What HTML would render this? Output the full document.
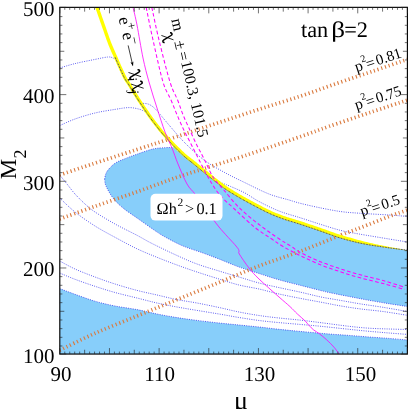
<!DOCTYPE html>
<html><head><meta charset="utf-8"><title>chart</title>
<style>
html,body{margin:0;padding:0;background:#fff;}
body{width:411px;height:409px;position:relative;overflow:hidden;font-family:"Liberation Serif",serif;}
</style></head><body>
<svg width="411" height="409" viewBox="0 0 411 409" style="position:absolute;left:0;top:0;will-change:transform">
<defs><clipPath id="c"><rect x="59.8" y="7.35" width="347.59999999999997" height="346.7"/></clipPath></defs>
<g clip-path="url(#c)">
<path d="M104.60,179.00 C105.00,177.75 105.27,174.12 107.00,171.50 C108.73,168.88 112.00,165.43 115.00,163.30 C118.00,161.17 121.33,160.22 125.00,158.70 C128.67,157.18 132.33,155.82 137.00,154.20 C141.67,152.58 148.33,150.08 153.00,149.00 C157.67,147.92 161.75,147.95 165.00,147.70 C168.25,147.45 171.25,147.53 172.50,147.50 L174.50,146.90 C176.00,148.37 181.25,153.60 183.50,155.70 C185.75,157.80 186.55,158.32 188.00,159.50 C189.45,160.68 189.47,160.57 192.20,162.80 C194.93,165.03 200.32,169.60 204.40,172.90 C208.48,176.20 213.02,179.78 216.70,182.60 C220.38,185.42 222.62,187.23 226.50,189.80 C230.38,192.37 235.30,195.30 240.00,198.00 C244.70,200.70 249.82,203.43 254.70,206.00 C259.58,208.57 264.42,211.20 269.30,213.40 C274.18,215.60 278.88,217.40 284.00,219.20 C289.12,221.00 293.83,222.18 300.00,224.20 C306.17,226.22 314.17,228.97 321.00,231.30 C327.83,233.63 334.33,236.20 341.00,238.20 C347.67,240.20 354.00,241.83 361.00,243.30 C368.00,244.77 375.27,245.85 383.00,247.00 C390.73,248.15 403.33,249.67 407.40,250.20 L407.40,306.50 C404.33,306.03 395.40,304.73 389.00,303.70 C382.60,302.67 375.67,301.50 369.00,300.30 C362.33,299.10 355.67,297.80 349.00,296.50 C342.33,295.20 333.67,293.48 329.00,292.50 C324.33,291.52 325.67,291.77 321.00,290.60 C316.33,289.43 308.00,287.30 301.00,285.50 C294.00,283.70 286.00,281.80 279.00,279.80 C272.00,277.80 265.67,275.63 259.00,273.50 C252.33,271.37 245.67,269.42 239.00,267.00 C232.33,264.58 225.00,261.33 219.00,259.00 C213.00,256.67 209.00,255.17 203.00,253.00 C197.00,250.83 189.00,248.50 183.00,246.00 C177.00,243.50 171.33,240.33 167.00,238.00 C162.67,235.67 162.00,235.33 157.00,232.00 C152.00,228.67 142.67,222.00 137.00,218.00 C131.33,214.00 127.00,211.33 123.00,208.00 C119.00,204.67 115.83,201.67 113.00,198.00 C110.17,194.33 107.40,189.17 106.00,186.00 C104.60,182.83 104.83,180.17 104.60,179.00 Z" fill="#87cefa"/>
<path d="M59.70,288.60 C62.25,289.55 69.12,292.20 75.00,294.30 C80.88,296.40 88.33,299.25 95.00,301.20 C101.67,303.15 108.00,304.60 115.00,306.00 C122.00,307.40 130.00,308.27 137.00,309.60 C144.00,310.93 150.33,312.67 157.00,314.00 C163.67,315.33 170.33,316.53 177.00,317.60 C183.67,318.67 190.00,319.50 197.00,320.40 C204.00,321.30 212.00,322.23 219.00,323.00 C226.00,323.77 232.33,324.33 239.00,325.00 C245.67,325.67 252.33,326.28 259.00,327.00 C265.67,327.72 272.00,328.55 279.00,329.30 C286.00,330.05 292.67,330.72 301.00,331.50 C309.33,332.28 321.00,333.35 329.00,334.00 C337.00,334.65 342.33,334.90 349.00,335.40 C355.67,335.90 362.33,336.50 369.00,337.00 C375.67,337.50 382.63,337.90 389.00,338.40 C395.37,338.90 404.17,339.73 407.20,340.00 L407.4,354.05 L59.8,354.05 Z" fill="#87cefa"/>
<path d="M104.60,179.00 C105.00,177.75 105.27,174.12 107.00,171.50 C108.73,168.88 112.00,165.43 115.00,163.30 C118.00,161.17 121.33,160.22 125.00,158.70 C128.67,157.18 132.33,155.82 137.00,154.20 C141.67,152.58 148.33,150.08 153.00,149.00 C157.67,147.92 161.75,147.95 165.00,147.70 C168.25,147.45 171.25,147.53 172.50,147.50" fill="none" stroke="#3636ee" stroke-width="0.8" stroke-dasharray="1 1.3" opacity="1"/>
<path d="M407.40,306.50 C404.33,306.03 395.40,304.73 389.00,303.70 C382.60,302.67 375.67,301.50 369.00,300.30 C362.33,299.10 355.67,297.80 349.00,296.50 C342.33,295.20 333.67,293.48 329.00,292.50 C324.33,291.52 325.67,291.77 321.00,290.60 C316.33,289.43 308.00,287.30 301.00,285.50 C294.00,283.70 286.00,281.80 279.00,279.80 C272.00,277.80 265.67,275.63 259.00,273.50 C252.33,271.37 245.67,269.42 239.00,267.00 C232.33,264.58 225.00,261.33 219.00,259.00 C213.00,256.67 209.00,255.17 203.00,253.00 C197.00,250.83 189.00,248.50 183.00,246.00 C177.00,243.50 171.33,240.33 167.00,238.00 C162.67,235.67 162.00,235.33 157.00,232.00 C152.00,228.67 142.67,222.00 137.00,218.00 C131.33,214.00 127.00,211.33 123.00,208.00 C119.00,204.67 115.83,201.67 113.00,198.00 C110.17,194.33 107.40,189.17 106.00,186.00 C104.60,182.83 104.83,180.17 104.60,179.00" fill="none" stroke="#3636ee" stroke-width="0.8" stroke-dasharray="1 1.3" opacity="1"/>
<path d="M59.70,288.60 C62.25,289.55 69.12,292.20 75.00,294.30 C80.88,296.40 88.33,299.25 95.00,301.20 C101.67,303.15 108.00,304.60 115.00,306.00 C122.00,307.40 130.00,308.27 137.00,309.60 C144.00,310.93 150.33,312.67 157.00,314.00 C163.67,315.33 170.33,316.53 177.00,317.60 C183.67,318.67 190.00,319.50 197.00,320.40 C204.00,321.30 212.00,322.23 219.00,323.00 C226.00,323.77 232.33,324.33 239.00,325.00 C245.67,325.67 252.33,326.28 259.00,327.00 C265.67,327.72 272.00,328.55 279.00,329.30 C286.00,330.05 292.67,330.72 301.00,331.50 C309.33,332.28 321.00,333.35 329.00,334.00 C337.00,334.65 342.33,334.90 349.00,335.40 C355.67,335.90 362.33,336.50 369.00,337.00 C375.67,337.50 382.63,337.90 389.00,338.40 C395.37,338.90 404.17,339.73 407.20,340.00" fill="none" stroke="#3636ee" stroke-width="0.8" stroke-dasharray="1 1.3" opacity="1"/>
<path d="M59.70,68.00 C62.25,67.27 69.12,65.03 75.00,63.60 C80.88,62.17 89.50,60.50 95.00,59.40 C100.50,58.30 105.00,57.23 108.00,57.00 C111.00,56.77 111.58,57.50 113.00,58.00 C114.42,58.50 115.92,59.67 116.50,60.00" fill="none" stroke="#3636ee" stroke-width="0.8" stroke-dasharray="1 1.3" opacity="1"/>
<path d="M59.70,125.60 C62.25,124.50 69.12,121.10 75.00,119.00 C80.88,116.90 88.33,114.60 95.00,113.00 C101.67,111.40 109.33,110.30 115.00,109.40 C120.67,108.50 124.95,107.63 129.00,107.60 C133.05,107.57 136.72,108.53 139.30,109.20 C141.88,109.87 143.63,111.20 144.50,111.60" fill="none" stroke="#3636ee" stroke-width="0.8" stroke-dasharray="1 1.3" opacity="1"/>
<path d="M140.80,103.30 C142.00,103.42 145.80,103.27 148.00,104.00 C150.20,104.73 152.00,105.98 154.00,107.70 C156.00,109.42 157.50,111.42 160.00,114.30 C162.50,117.18 164.90,120.28 169.00,125.00 C173.10,129.72 178.77,136.77 184.60,142.60 C190.43,148.43 197.48,155.10 204.00,160.00 C210.52,164.90 216.87,168.22 223.70,172.00 C230.53,175.78 237.45,179.03 245.00,182.70 C252.55,186.37 261.67,191.12 269.00,194.00 C276.33,196.88 283.67,198.42 289.00,200.00 C294.33,201.58 295.67,202.17 301.00,203.50 C306.33,204.83 314.33,206.65 321.00,208.00 C327.67,209.35 334.67,210.73 341.00,211.60 C347.33,212.47 351.00,212.63 359.00,213.20 C367.00,213.77 380.97,214.47 389.00,215.00 C397.03,215.53 404.17,216.17 407.20,216.40" fill="none" stroke="#3636ee" stroke-width="0.8" stroke-dasharray="1 1.3" opacity="1"/>
<path d="M215.50,180.30 C216.72,180.82 220.38,182.42 222.80,183.40 C225.22,184.38 226.30,184.60 230.00,186.20 C233.70,187.80 240.17,190.45 245.00,193.00 C249.83,195.55 253.33,198.50 259.00,201.50 C264.67,204.50 272.00,208.25 279.00,211.00 C286.00,213.75 294.00,215.75 301.00,218.00 C308.00,220.25 314.33,222.42 321.00,224.50 C327.67,226.58 334.67,228.92 341.00,230.50 C347.33,232.08 351.00,232.58 359.00,234.00 C367.00,235.42 380.97,237.67 389.00,239.00 C397.03,240.33 404.17,241.50 407.20,242.00" fill="none" stroke="#3636ee" stroke-width="0.8" stroke-dasharray="1 1.3" opacity="1"/>
<path d="M59.70,175.00 C60.92,176.50 64.45,180.83 67.00,184.00 C69.55,187.17 72.00,190.67 75.00,194.00 C78.00,197.33 81.67,201.00 85.00,204.00 C88.33,207.00 90.00,208.67 95.00,212.00 C100.00,215.33 108.00,220.12 115.00,224.00 C122.00,227.88 130.83,232.05 137.00,235.30 C143.17,238.55 145.33,240.13 152.00,243.50 C158.67,246.87 169.50,252.08 177.00,255.50 C184.50,258.92 190.00,261.42 197.00,264.00 C204.00,266.58 212.00,268.83 219.00,271.00 C226.00,273.17 232.33,275.00 239.00,277.00 C245.67,279.00 252.33,281.23 259.00,283.00 C265.67,284.77 272.00,286.05 279.00,287.60 C286.00,289.15 294.00,290.73 301.00,292.30 C308.00,293.87 314.33,295.63 321.00,297.00 C327.67,298.37 334.33,299.33 341.00,300.50 C347.67,301.67 354.00,302.87 361.00,304.00 C368.00,305.13 375.27,306.05 383.00,307.30 C390.73,308.55 403.33,310.80 407.40,311.50" fill="none" stroke="#3636ee" stroke-width="0.8" stroke-dasharray="1 1.3" opacity="1"/>
<path d="M59.70,198.00 C62.25,200.33 69.12,207.33 75.00,212.00 C80.88,216.67 88.33,221.78 95.00,226.00 C101.67,230.22 108.00,233.50 115.00,237.30 C122.00,241.10 130.00,245.47 137.00,248.80 C144.00,252.13 150.33,254.60 157.00,257.30 C163.67,260.00 170.33,262.55 177.00,265.00 C183.67,267.45 190.00,269.67 197.00,272.00 C204.00,274.33 212.00,276.83 219.00,279.00 C226.00,281.17 232.33,283.33 239.00,285.00 C245.67,286.67 252.33,287.50 259.00,289.00 C265.67,290.50 272.00,292.42 279.00,294.00 C286.00,295.58 294.00,297.13 301.00,298.50 C308.00,299.87 314.33,300.95 321.00,302.20 C327.67,303.45 334.33,304.87 341.00,306.00 C347.67,307.13 354.00,308.08 361.00,309.00 C368.00,309.92 375.27,310.45 383.00,311.50 C390.73,312.55 403.33,314.67 407.40,315.30" fill="none" stroke="#3636ee" stroke-width="0.8" stroke-dasharray="1 1.3" opacity="1"/>
<path d="M59.70,261.00 C62.25,262.33 69.12,266.33 75.00,269.00 C80.88,271.67 88.33,274.50 95.00,277.00 C101.67,279.50 108.00,281.77 115.00,284.00 C122.00,286.23 130.00,288.57 137.00,290.40 C144.00,292.23 150.33,293.47 157.00,295.00 C163.67,296.53 170.33,298.27 177.00,299.60 C183.67,300.93 190.00,301.68 197.00,303.00 C204.00,304.32 212.00,306.00 219.00,307.50 C226.00,309.00 232.33,310.67 239.00,312.00 C245.67,313.33 252.33,314.50 259.00,315.50 C265.67,316.50 272.00,317.22 279.00,318.00 C286.00,318.78 294.00,319.42 301.00,320.20 C308.00,320.98 313.00,321.68 321.00,322.70 C329.00,323.72 341.00,325.38 349.00,326.30 C357.00,327.22 362.33,327.75 369.00,328.20 C375.67,328.65 382.60,328.78 389.00,329.00 C395.40,329.22 404.33,329.42 407.40,329.50" fill="none" stroke="#3636ee" stroke-width="0.8" stroke-dasharray="1 1.3" opacity="1"/>
<path d="M59.70,273.00 C62.25,274.05 69.12,277.08 75.00,279.30 C80.88,281.52 88.33,284.10 95.00,286.30 C101.67,288.50 108.00,290.55 115.00,292.50 C122.00,294.45 130.00,296.25 137.00,298.00 C144.00,299.75 150.33,301.50 157.00,303.00 C163.67,304.50 170.33,305.77 177.00,307.00 C183.67,308.23 190.00,309.23 197.00,310.40 C204.00,311.57 212.00,312.82 219.00,314.00 C226.00,315.18 232.33,316.42 239.00,317.50 C245.67,318.58 252.33,319.65 259.00,320.50 C265.67,321.35 272.00,321.93 279.00,322.60 C286.00,323.27 294.00,323.88 301.00,324.50 C308.00,325.12 313.00,325.50 321.00,326.30 C329.00,327.10 341.00,328.47 349.00,329.30 C357.00,330.13 362.33,330.68 369.00,331.30 C375.67,331.92 382.60,332.48 389.00,333.00 C395.40,333.52 404.33,334.17 407.40,334.40" fill="none" stroke="#3636ee" stroke-width="0.8" stroke-dasharray="1 1.3" opacity="1"/>
<path d="M59.70,175.00 C64.75,173.30 77.12,169.05 90.00,164.80 C102.88,160.55 122.50,154.22 137.00,149.50 C151.50,144.78 163.33,141.00 177.00,136.50 C190.67,132.00 205.17,127.08 219.00,122.50 C232.83,117.92 246.33,113.42 260.00,109.00 C273.67,104.58 288.00,100.33 301.00,96.00 C314.00,91.67 326.17,87.08 338.00,83.00 C349.83,78.92 360.47,75.42 372.00,71.50 C383.53,67.58 401.33,61.50 407.20,59.50" fill="none" stroke="#da7a3e" stroke-width="3.7" stroke-dasharray="1.1 2.75"/>
<path d="M59.70,219.00 C65.58,216.88 82.12,210.83 95.00,206.30 C107.88,201.77 123.33,196.63 137.00,191.80 C150.67,186.97 165.83,181.17 177.00,177.30 C188.17,173.43 192.67,172.22 204.00,168.60 C215.33,164.98 228.83,160.97 245.00,155.60 C261.17,150.23 287.00,141.27 301.00,136.40 C315.00,131.53 317.50,130.38 329.00,126.40 C340.50,122.42 356.97,116.87 370.00,112.50 C383.03,108.13 401.00,102.25 407.20,100.20" fill="none" stroke="#da7a3e" stroke-width="3.7" stroke-dasharray="1.1 2.75"/>
<path d="M59.70,350.30 C65.58,347.47 82.12,339.02 95.00,333.30 C107.88,327.58 123.33,321.62 137.00,316.00 C150.67,310.38 163.33,305.18 177.00,299.60 C190.67,294.02 205.33,288.10 219.00,282.50 C232.67,276.90 245.33,271.25 259.00,266.00 C272.67,260.75 287.33,256.17 301.00,251.00 C314.67,245.83 331.00,238.92 341.00,235.00 C351.00,231.08 353.00,230.58 361.00,227.50 C369.00,224.42 381.27,219.42 389.00,216.50 C396.73,213.58 404.33,211.08 407.40,210.00" fill="none" stroke="#da7a3e" stroke-width="3.7" stroke-dasharray="1.1 2.75"/>
<path d="M95.27,7.70 L95.59,8.61 L95.99,9.75 L96.47,11.10 L97.00,12.61 L97.58,14.25 L98.19,15.99 L98.83,17.78 L99.47,19.60 L100.11,21.41 L100.73,23.16 L101.32,24.84 L101.87,26.40 L102.39,27.88 L102.90,29.36 L103.41,30.83 L103.91,32.29 L104.41,33.75 L104.90,35.19 L105.40,36.61 L105.89,38.02 L106.38,39.41 L106.88,40.77 L107.38,42.12 L107.88,43.43 L108.37,44.69 L108.85,45.89 L109.32,47.03 L109.78,48.13 L110.25,49.22 L110.71,50.29 L111.19,51.38 L111.68,52.49 L112.19,53.64 L112.73,54.84 L113.30,56.12 L113.90,57.48 L114.56,58.98 L115.27,60.61 L116.03,62.34 L116.83,64.15 L117.64,66.00 L118.47,67.86 L119.29,69.70 L120.09,71.49 L120.87,73.20 L121.61,74.80 L122.30,76.25 L122.93,77.54 L123.48,78.63 L123.98,79.55 L124.43,80.33 L124.83,81.01 L125.22,81.60 L125.58,82.13 L125.93,82.62 L126.29,83.11 L126.65,83.62 L127.05,84.19 L127.48,84.85 L127.98,85.64 L128.53,86.52 L129.09,87.44 L129.67,88.40 L130.27,89.40 L130.89,90.43 L131.54,91.50 L132.21,92.60 L132.90,93.74 L133.63,94.91 L134.38,96.12 L135.17,97.37 L135.99,98.65 L136.85,99.99 L137.77,101.40 L138.73,102.87 L139.73,104.40 L140.75,105.96 L141.79,107.54 L142.85,109.13 L143.91,110.71 L144.96,112.27 L146.00,113.79 L147.03,115.27 L148.02,116.69 L149.00,118.08 L150.01,119.45 L151.03,120.81 L152.05,122.16 L153.06,123.49 L154.06,124.79 L155.04,126.05 L156.01,127.28 L156.94,128.45 L157.83,129.58 L158.69,130.64 L159.50,131.64 L160.26,132.56 L160.97,133.41 L161.64,134.18 L162.27,134.90 L162.88,135.57 L163.46,136.20 L164.02,136.80 L164.57,137.39 L165.13,137.98 L165.68,138.56 L166.24,139.17 L166.83,139.80 L167.42,140.45 L167.99,141.09 L168.56,141.71 L169.13,142.34 L169.69,142.96 L170.26,143.58 L170.83,144.20 L171.42,144.83 L172.02,145.46 L172.63,146.11 L173.27,146.77 L173.94,147.45 L174.64,148.15 L175.40,148.90 L176.19,149.67 L177.00,150.46 L177.83,151.25 L178.66,152.05 L179.49,152.83 L180.29,153.58 L181.06,154.31 L181.79,154.98 L182.46,155.60 L183.07,156.16 L183.61,156.65 L184.10,157.09 L184.55,157.47 L184.96,157.81 L185.33,158.12 L185.68,158.40 L186.01,158.66 L186.33,158.91 L186.65,159.15 L186.97,159.40 L187.30,159.65 L187.65,159.93 L187.99,160.20 L188.29,160.43 L188.56,160.63 L188.80,160.81 L189.05,160.99 L189.30,161.18 L189.58,161.38 L189.90,161.62 L190.28,161.91 L190.73,162.25 L191.26,162.67 L191.89,163.17 L192.64,163.77 L193.48,164.45 L194.40,165.19 L195.40,166.00 L196.45,166.86 L197.55,167.75 L198.67,168.66 L199.81,169.58 L200.93,170.51 L202.05,171.43 L203.13,172.32 L204.18,173.17 L205.21,174.00 L206.25,174.84 L207.31,175.69 L208.37,176.53 L209.43,177.37 L210.48,178.21 L211.53,179.03 L212.57,179.84 L213.58,180.64 L214.58,181.41 L215.55,182.16 L216.49,182.88 L217.38,183.56 L218.22,184.21 L219.03,184.83 L219.80,185.43 L220.56,186.01 L221.32,186.57 L222.07,187.14 L222.85,187.70 L223.65,188.27 L224.48,188.86 L225.37,189.46 L226.31,190.09 L227.30,190.74 L228.33,191.41 L229.40,192.08 L230.50,192.76 L231.62,193.45 L232.76,194.15 L233.92,194.85 L235.10,195.55 L236.28,196.24 L237.46,196.94 L238.65,197.62 L239.83,198.30 L241.01,198.98 L242.21,199.66 L243.42,200.33 L244.65,201.01 L245.88,201.69 L247.11,202.36 L248.36,203.03 L249.60,203.69 L250.84,204.36 L252.08,205.01 L253.31,205.66 L254.54,206.31 L255.76,206.95 L256.97,207.60 L258.19,208.24 L259.41,208.88 L260.62,209.52 L261.84,210.15 L263.06,210.77 L264.27,211.39 L265.49,211.99 L266.71,212.58 L267.93,213.16 L269.16,213.72 L270.38,214.26 L271.59,214.79 L272.80,215.30 L274.01,215.81 L275.22,216.30 L276.43,216.78 L277.65,217.25 L278.88,217.71 L280.11,218.17 L281.35,218.63 L282.61,219.08 L283.88,219.53 L285.16,219.97 L286.43,220.39 L287.69,220.79 L288.95,221.18 L290.22,221.57 L291.51,221.95 L292.81,222.34 L294.15,222.74 L295.52,223.16 L296.93,223.59 L298.38,224.05 L299.89,224.53 L301.47,225.05 L303.11,225.60 L304.81,226.16 L306.55,226.75 L308.33,227.35 L310.14,227.96 L311.95,228.58 L313.78,229.20 L315.59,229.82 L317.39,230.44 L319.16,231.04 L320.89,231.63 L322.59,232.22 L324.27,232.81 L325.95,233.41 L327.62,234.01 L329.29,234.61 L330.94,235.20 L332.60,235.79 L334.26,236.37 L335.91,236.94 L337.57,237.49 L339.23,238.02 L340.90,238.54 L342.56,239.03 L344.21,239.51 L345.86,239.97 L347.50,240.42 L349.14,240.86 L350.79,241.29 L352.44,241.71 L354.10,242.11 L355.78,242.51 L357.47,242.89 L359.19,243.27 L360.93,243.64 L362.69,244.00 L364.46,244.35 L366.24,244.68 L368.04,245.00 L369.85,245.31 L371.67,245.61 L373.51,245.91 L375.36,246.20 L377.23,246.49 L379.12,246.77 L381.02,247.06 L382.95,247.35 L384.98,247.64 L387.16,247.95 L389.46,248.26 L391.81,248.57 L394.19,248.88 L396.53,249.18 L398.80,249.47 L400.94,249.74 L402.92,249.98 L404.67,250.20 L406.17,250.39 L407.36,250.55 L407.40,250.20 L406.22,250.03 L404.73,249.76 L402.98,249.44 L401.02,249.08 L398.90,248.69 L396.65,248.28 L394.32,247.85 L391.97,247.41 L389.63,246.97 L387.36,246.53 L385.20,246.10 L383.19,245.70 L381.29,245.31 L379.40,244.92 L377.53,244.53 L375.68,244.14 L373.85,243.74 L372.04,243.35 L370.24,242.95 L368.47,242.54 L366.71,242.12 L364.96,241.70 L363.24,241.26 L361.52,240.81 L359.82,240.35 L358.15,239.88 L356.50,239.41 L354.87,238.92 L353.25,238.43 L351.63,238.00 L350.01,237.57 L348.39,237.14 L346.77,236.70 L345.15,236.24 L343.52,235.77 L341.88,235.28 L340.25,234.78 L338.63,234.26 L337.00,233.72 L335.37,233.16 L333.73,232.59 L332.09,232.00 L330.44,231.41 L328.77,230.81 L327.10,230.21 L325.41,229.61 L323.71,229.01 L321.99,228.42 L320.26,227.82 L318.49,227.22 L316.69,226.60 L314.87,225.98 L313.05,225.36 L311.23,224.74 L309.42,224.13 L307.64,223.53 L305.89,222.94 L304.19,222.37 L302.53,221.82 L300.94,221.30 L299.41,220.81 L297.93,220.34 L296.51,219.90 L295.13,219.49 L293.79,219.09 L292.48,218.70 L291.20,218.31 L289.95,217.93 L288.71,217.55 L287.48,217.15 L286.25,216.75 L285.01,216.32 L283.75,215.88 L282.51,215.43 L281.29,214.98 L280.07,214.53 L278.87,214.07 L277.68,213.61 L276.49,213.14 L275.30,212.66 L274.12,212.17 L272.93,211.67 L271.75,211.15 L270.56,210.62 L269.37,210.08 L268.18,209.51 L266.99,208.94 L265.79,208.35 L264.60,207.74 L263.40,207.13 L262.20,206.50 L260.99,205.87 L259.78,205.23 L258.56,204.59 L257.34,203.95 L256.12,203.30 L254.90,202.66 L253.67,202.01 L252.44,201.35 L251.20,200.70 L249.97,200.03 L248.73,199.37 L247.51,198.70 L246.29,198.03 L245.07,197.36 L243.87,196.69 L242.69,196.02 L241.52,195.35 L240.35,194.68 L239.17,194.00 L238.00,193.31 L236.83,192.62 L235.67,191.93 L234.52,191.24 L233.39,190.55 L232.29,189.87 L231.21,189.20 L230.16,188.54 L229.15,187.89 L228.18,187.26 L227.27,186.65 L226.42,186.06 L225.61,185.50 L224.84,184.95 L224.09,184.40 L223.35,183.85 L222.62,183.30 L221.87,182.73 L221.10,182.13 L220.30,181.52 L219.45,180.87 L218.56,180.18 L217.62,179.46 L216.66,178.72 L215.67,177.95 L214.66,177.16 L213.63,176.36 L212.59,175.54 L211.54,174.71 L210.48,173.87 L209.43,173.03 L208.38,172.19 L207.34,171.35 L206.32,170.53 L205.28,169.69 L204.20,168.80 L203.10,167.89 L201.98,166.96 L200.84,166.05 L199.72,165.14 L198.63,164.25 L197.58,163.39 L196.58,162.58 L195.65,161.83 L194.80,161.14 L194.05,160.54 L193.40,160.03 L192.85,159.60 L192.38,159.24 L191.99,158.94 L191.65,158.68 L191.35,158.46 L191.09,158.27 L190.86,158.10 L190.63,157.93 L190.39,157.75 L190.12,157.54 L189.79,157.29 L189.43,157.00 L189.08,156.73 L188.75,156.48 L188.44,156.24 L188.14,156.01 L187.83,155.76 L187.51,155.51 L187.16,155.23 L186.79,154.91 L186.37,154.55 L185.91,154.14 L185.39,153.67 L184.79,153.13 L184.13,152.52 L183.41,151.85 L182.65,151.13 L181.85,150.39 L181.04,149.61 L180.21,148.83 L179.39,148.04 L178.59,147.26 L177.81,146.50 L177.07,145.77 L176.38,145.08 L175.73,144.42 L175.11,143.78 L174.51,143.15 L173.93,142.53 L173.35,141.92 L172.79,141.31 L172.23,140.69 L171.67,140.08 L171.11,139.46 L170.54,138.83 L169.96,138.19 L169.36,137.53 L168.76,136.89 L168.19,136.27 L167.63,135.67 L167.08,135.09 L166.53,134.51 L165.98,133.92 L165.42,133.31 L164.84,132.66 L164.23,131.97 L163.58,131.23 L162.89,130.41 L162.15,129.52 L161.36,128.53 L160.51,127.48 L159.62,126.37 L158.70,125.20 L157.75,123.99 L156.77,122.73 L155.78,121.45 L154.78,120.13 L153.77,118.80 L152.77,117.45 L151.77,116.10 L150.80,114.73 L149.82,113.33 L148.81,111.87 L147.78,110.36 L146.73,108.81 L145.68,107.24 L144.63,105.66 L143.59,104.09 L142.57,102.54 L141.58,101.02 L140.62,99.55 L139.71,98.14 L138.85,96.81 L138.04,95.54 L137.26,94.32 L136.52,93.12 L135.80,91.96 L135.11,90.83 L134.44,89.73 L133.80,88.67 L133.18,87.64 L132.58,86.64 L131.99,85.68 L131.43,84.74 L130.87,83.84 L130.34,83.00 L129.86,82.28 L129.43,81.66 L129.05,81.12 L128.69,80.64 L128.37,80.18 L128.05,79.71 L127.72,79.20 L127.36,78.61 L126.96,77.91 L126.50,77.05 L125.97,76.02 L125.36,74.78 L124.69,73.36 L123.96,71.79 L123.19,70.09 L122.39,68.31 L121.57,66.48 L120.75,64.63 L119.94,62.78 L119.15,60.98 L118.39,59.24 L117.67,57.61 L117.01,56.11 L116.41,54.74 L115.84,53.46 L115.30,52.25 L114.79,51.11 L114.30,50.01 L113.83,48.93 L113.37,47.87 L112.92,46.81 L112.46,45.73 L112.00,44.61 L111.54,43.44 L111.05,42.21 L110.56,40.92 L110.07,39.60 L109.58,38.26 L109.10,36.89 L108.61,35.49 L108.12,34.08 L107.62,32.64 L107.13,31.19 L106.62,29.72 L106.11,28.25 L105.60,26.76 L105.08,25.27 L104.52,23.71 L103.93,22.03 L103.31,20.27 L102.67,18.47 L102.03,16.65 L101.40,14.86 L100.79,13.12 L100.21,11.48 L99.67,9.97 L99.20,8.62 L98.80,7.48 L98.47,6.57 Z" fill="#ffff00"/>
<path d="M115.00,57.00 C116.50,60.33 121.67,72.33 124.00,77.00 C126.33,81.67 126.83,81.50 129.00,85.00 C131.17,88.50 133.67,92.83 137.00,98.00 C140.33,103.17 145.12,110.50 149.00,116.00 C152.88,121.50 157.22,127.13 160.30,131.00 C163.38,134.87 165.13,136.55 167.50,139.20 C169.87,141.85 171.83,144.15 174.50,146.90 C177.17,149.65 181.25,153.60 183.50,155.70 C185.75,157.80 186.55,158.32 188.00,159.50 C189.45,160.68 189.47,160.57 192.20,162.80 C194.93,165.03 200.32,169.60 204.40,172.90 C208.48,176.20 213.02,179.78 216.70,182.60 C220.38,185.42 222.62,187.23 226.50,189.80 C230.38,192.37 235.30,195.30 240.00,198.00 C244.70,200.70 249.82,203.43 254.70,206.00 C259.58,208.57 264.42,211.20 269.30,213.40 C274.18,215.60 278.88,217.40 284.00,219.20 C289.12,221.00 293.83,222.18 300.00,224.20 C306.17,226.22 314.17,228.97 321.00,231.30 C327.83,233.63 334.33,236.20 341.00,238.20 C347.67,240.20 354.00,241.83 361.00,243.30 C368.00,244.77 375.27,245.85 383.00,247.00 C390.73,248.15 403.33,249.67 407.40,250.20" fill="none" stroke="#202088" stroke-width="1" stroke-dasharray="0.8 0.8"/>
<path d="M133.00,7.30 C133.67,10.25 135.33,16.55 137.00,25.00 C138.67,33.45 141.00,48.50 143.00,58.00 C145.00,67.50 146.67,73.67 149.00,82.00 C151.33,90.33 154.33,99.67 157.00,108.00 C159.67,116.33 162.50,125.33 165.00,132.00 C167.50,138.67 169.83,142.67 172.00,148.00 C174.17,153.33 175.50,158.00 178.00,164.00 C180.50,170.00 184.17,179.00 187.00,184.00 C189.83,189.00 192.00,190.00 195.00,194.00 C198.00,198.00 201.00,202.50 205.00,208.00 C209.00,213.50 213.83,220.67 219.00,227.00 C224.17,233.33 232.67,242.00 236.00,246.00 C239.33,250.00 238.45,249.67 239.00,251.00 C239.55,252.33 237.63,251.17 239.30,254.00 C240.97,256.83 245.72,263.83 249.00,268.00 C252.28,272.17 254.00,274.17 259.00,279.00 C264.00,283.83 273.83,292.40 279.00,297.00 C284.17,301.60 286.95,303.78 290.00,306.60 C293.05,309.42 294.85,311.58 297.30,313.90 C299.75,316.22 302.73,318.57 304.70,320.50 C306.67,322.43 307.63,323.95 309.10,325.50 C310.57,327.05 311.80,328.43 313.50,329.80 C315.20,331.17 317.10,332.03 319.30,333.70 C321.50,335.37 324.25,337.55 326.70,339.80 C329.15,342.05 331.93,344.83 334.00,347.20 C336.07,349.57 338.25,352.87 339.10,354.00" fill="none" stroke="#ff00ff" stroke-width="0.8"/>
<path d="M146.20,7.35 C147.33,12.79 150.20,27.56 153.00,40.00 C155.80,52.44 160.00,72.00 163.00,82.00 C166.00,92.00 168.67,94.55 171.00,100.00 C173.33,105.45 174.92,109.82 177.00,114.70 C179.08,119.58 181.17,124.42 183.50,129.30 C185.83,134.18 188.50,139.10 191.00,144.00 C193.50,148.90 195.67,153.20 198.50,158.70 C201.33,164.20 204.58,171.12 208.00,177.00 C211.42,182.88 214.50,188.58 219.00,194.00 C223.50,199.42 229.00,203.92 235.00,209.50 C241.00,215.08 249.00,222.67 255.00,227.50 C261.00,232.33 266.33,235.33 271.00,238.50 C275.67,241.67 278.00,243.58 283.00,246.50 C288.00,249.42 294.67,252.92 301.00,256.00 C307.33,259.08 314.33,262.33 321.00,265.00 C327.67,267.67 334.33,269.83 341.00,272.00 C347.67,274.17 354.00,276.08 361.00,278.00 C368.00,279.92 375.75,281.62 383.00,283.50 C390.25,285.38 400.92,288.33 404.50,289.30" fill="none" stroke="#ff00ff" stroke-width="1.05" stroke-dasharray="3.6 2.4"/>
<path d="M151.80,7.35 C153.00,12.79 155.97,27.56 159.00,40.00 C162.03,52.44 166.90,72.00 170.00,82.00 C173.10,92.00 175.43,94.55 177.60,100.00 C179.77,105.45 181.02,109.82 183.00,114.70 C184.98,119.58 187.17,124.17 189.50,129.30 C191.83,134.43 194.58,140.60 197.00,145.50 C199.42,150.40 201.33,153.45 204.00,158.70 C206.67,163.95 209.83,171.95 213.00,177.00 C216.17,182.05 218.67,183.92 223.00,189.00 C227.33,194.08 233.00,201.58 239.00,207.50 C245.00,213.42 252.33,219.28 259.00,224.50 C265.67,229.72 273.67,235.17 279.00,238.80 C284.33,242.43 287.33,243.97 291.00,246.30 C294.67,248.63 296.00,250.18 301.00,252.80 C306.00,255.42 314.33,259.30 321.00,262.00 C327.67,264.70 334.33,266.83 341.00,269.00 C347.67,271.17 354.00,273.08 361.00,275.00 C368.00,276.92 375.75,278.47 383.00,280.50 C390.25,282.53 400.92,286.08 404.50,287.20" fill="none" stroke="#ff00ff" stroke-width="1.05" stroke-dasharray="3.6 2.4"/>
</g>
<rect x="150.5" y="193.8" width="72" height="26.8" rx="5" ry="5" fill="#fff"/>
<rect x="59.8" y="7.35" width="347.59999999999997" height="346.7" fill="none" stroke="#000" stroke-width="1.15"/>
<path d="M59.80,354.05 v-6 M59.80,7.35 v6 M64.77,354.05 v-2.5 M64.77,7.35 v2.5 M69.73,354.05 v-2.5 M69.73,7.35 v2.5 M74.70,354.05 v-2.5 M74.70,7.35 v2.5 M79.66,354.05 v-2.5 M79.66,7.35 v2.5 M84.63,354.05 v-4.3 M84.63,7.35 v4.3 M89.59,354.05 v-2.5 M89.59,7.35 v2.5 M94.56,354.05 v-2.5 M94.56,7.35 v2.5 M99.53,354.05 v-2.5 M99.53,7.35 v2.5 M104.49,354.05 v-2.5 M104.49,7.35 v2.5 M109.46,354.05 v-6 M109.46,7.35 v6 M114.42,354.05 v-2.5 M114.42,7.35 v2.5 M119.39,354.05 v-2.5 M119.39,7.35 v2.5 M124.35,354.05 v-2.5 M124.35,7.35 v2.5 M129.32,354.05 v-2.5 M129.32,7.35 v2.5 M134.29,354.05 v-4.3 M134.29,7.35 v4.3 M139.25,354.05 v-2.5 M139.25,7.35 v2.5 M144.22,354.05 v-2.5 M144.22,7.35 v2.5 M149.18,354.05 v-2.5 M149.18,7.35 v2.5 M154.15,354.05 v-2.5 M154.15,7.35 v2.5 M159.11,354.05 v-6 M159.11,7.35 v6 M164.08,354.05 v-2.5 M164.08,7.35 v2.5 M169.05,354.05 v-2.5 M169.05,7.35 v2.5 M174.01,354.05 v-2.5 M174.01,7.35 v2.5 M178.98,354.05 v-2.5 M178.98,7.35 v2.5 M183.94,354.05 v-4.3 M183.94,7.35 v4.3 M188.91,354.05 v-2.5 M188.91,7.35 v2.5 M193.87,354.05 v-2.5 M193.87,7.35 v2.5 M198.84,354.05 v-2.5 M198.84,7.35 v2.5 M203.81,354.05 v-2.5 M203.81,7.35 v2.5 M208.77,354.05 v-6 M208.77,7.35 v6 M213.74,354.05 v-2.5 M213.74,7.35 v2.5 M218.70,354.05 v-2.5 M218.70,7.35 v2.5 M223.67,354.05 v-2.5 M223.67,7.35 v2.5 M228.63,354.05 v-2.5 M228.63,7.35 v2.5 M233.60,354.05 v-4.3 M233.60,7.35 v4.3 M238.57,354.05 v-2.5 M238.57,7.35 v2.5 M243.53,354.05 v-2.5 M243.53,7.35 v2.5 M248.50,354.05 v-2.5 M248.50,7.35 v2.5 M253.46,354.05 v-2.5 M253.46,7.35 v2.5 M258.43,354.05 v-6 M258.43,7.35 v6 M263.39,354.05 v-2.5 M263.39,7.35 v2.5 M268.36,354.05 v-2.5 M268.36,7.35 v2.5 M273.33,354.05 v-2.5 M273.33,7.35 v2.5 M278.29,354.05 v-2.5 M278.29,7.35 v2.5 M283.26,354.05 v-4.3 M283.26,7.35 v4.3 M288.22,354.05 v-2.5 M288.22,7.35 v2.5 M293.19,354.05 v-2.5 M293.19,7.35 v2.5 M298.15,354.05 v-2.5 M298.15,7.35 v2.5 M303.12,354.05 v-2.5 M303.12,7.35 v2.5 M308.09,354.05 v-6 M308.09,7.35 v6 M313.05,354.05 v-2.5 M313.05,7.35 v2.5 M318.02,354.05 v-2.5 M318.02,7.35 v2.5 M322.98,354.05 v-2.5 M322.98,7.35 v2.5 M327.95,354.05 v-2.5 M327.95,7.35 v2.5 M332.91,354.05 v-4.3 M332.91,7.35 v4.3 M337.88,354.05 v-2.5 M337.88,7.35 v2.5 M342.85,354.05 v-2.5 M342.85,7.35 v2.5 M347.81,354.05 v-2.5 M347.81,7.35 v2.5 M352.78,354.05 v-2.5 M352.78,7.35 v2.5 M357.74,354.05 v-6 M357.74,7.35 v6 M362.71,354.05 v-2.5 M362.71,7.35 v2.5 M367.67,354.05 v-2.5 M367.67,7.35 v2.5 M372.64,354.05 v-2.5 M372.64,7.35 v2.5 M377.61,354.05 v-2.5 M377.61,7.35 v2.5 M382.57,354.05 v-4.3 M382.57,7.35 v4.3 M387.54,354.05 v-2.5 M387.54,7.35 v2.5 M392.50,354.05 v-2.5 M392.50,7.35 v2.5 M397.47,354.05 v-2.5 M397.47,7.35 v2.5 M402.43,354.05 v-2.5 M402.43,7.35 v2.5 M407.40,354.05 v-6 M407.40,7.35 v6 M59.8,354.05 h6.5 M407.4,354.05 h-6.5 M59.8,345.98 h2.6 M407.4,345.98 h-2.6 M59.8,337.32 h2.6 M407.4,337.32 h-2.6 M59.8,328.65 h2.6 M407.4,328.65 h-2.6 M59.8,319.98 h2.6 M407.4,319.98 h-2.6 M59.8,311.31 h4.5 M407.4,311.31 h-4.5 M59.8,302.65 h2.6 M407.4,302.65 h-2.6 M59.8,293.98 h2.6 M407.4,293.98 h-2.6 M59.8,285.31 h2.6 M407.4,285.31 h-2.6 M59.8,276.64 h2.6 M407.4,276.64 h-2.6 M59.8,267.98 h6.5 M407.4,267.98 h-6.5 M59.8,259.31 h2.6 M407.4,259.31 h-2.6 M59.8,250.64 h2.6 M407.4,250.64 h-2.6 M59.8,241.97 h2.6 M407.4,241.97 h-2.6 M59.8,233.31 h2.6 M407.4,233.31 h-2.6 M59.8,224.64 h4.5 M407.4,224.64 h-4.5 M59.8,215.97 h2.6 M407.4,215.97 h-2.6 M59.8,207.30 h2.6 M407.4,207.30 h-2.6 M59.8,198.63 h2.6 M407.4,198.63 h-2.6 M59.8,189.97 h2.6 M407.4,189.97 h-2.6 M59.8,181.30 h6.5 M407.4,181.30 h-6.5 M59.8,172.63 h2.6 M407.4,172.63 h-2.6 M59.8,163.97 h2.6 M407.4,163.97 h-2.6 M59.8,155.30 h2.6 M407.4,155.30 h-2.6 M59.8,146.63 h2.6 M407.4,146.63 h-2.6 M59.8,137.96 h4.5 M407.4,137.96 h-4.5 M59.8,129.29 h2.6 M407.4,129.29 h-2.6 M59.8,120.63 h2.6 M407.4,120.63 h-2.6 M59.8,111.96 h2.6 M407.4,111.96 h-2.6 M59.8,103.29 h2.6 M407.4,103.29 h-2.6 M59.8,94.62 h6.5 M407.4,94.62 h-6.5 M59.8,85.96 h2.6 M407.4,85.96 h-2.6 M59.8,77.29 h2.6 M407.4,77.29 h-2.6 M59.8,68.62 h2.6 M407.4,68.62 h-2.6 M59.8,59.96 h2.6 M407.4,59.96 h-2.6 M59.8,51.29 h4.5 M407.4,51.29 h-4.5 M59.8,42.62 h2.6 M407.4,42.62 h-2.6 M59.8,33.95 h2.6 M407.4,33.95 h-2.6 M59.8,25.29 h2.6 M407.4,25.29 h-2.6 M59.8,16.62 h2.6 M407.4,16.62 h-2.6 M59.8,7.35 h6.5 M407.4,7.35 h-6.5" stroke="#222" stroke-width="0.8" fill="none" opacity="0.8"/>
<g font-family="'Liberation Serif', serif" fill="#000" text-rendering="geometricPrecision">
<text x="54.6" y="363.05" font-size="21" text-anchor="end" >100</text>
<text x="54.6" y="276.375" font-size="21" text-anchor="end" >200</text>
<text x="54.6" y="189.70000000000002" font-size="21" text-anchor="end" >300</text>
<text x="54.6" y="103.02499999999998" font-size="21" text-anchor="end" >400</text>
<text x="54.6" y="16.350000000000023" font-size="21" text-anchor="end" >500</text>
<text x="61" y="381.4" font-size="21" text-anchor="middle" >90</text>
<text x="159.6" y="381.4" font-size="21" text-anchor="middle" >110</text>
<text x="259.5" y="381.4" font-size="21" text-anchor="middle" >130</text>
<text x="360.5" y="381.4" font-size="21" text-anchor="middle" >150</text>
<text x="241" y="408.6" font-size="26" text-anchor="middle" >μ</text>
<text transform="translate(16.3,179.3) rotate(-90)" font-size="23">M<tspan font-size="18" dy="9.3" dx="0.3">2</tspan></text>
<text x="301" y="36.7" font-size="22.3" text-anchor="start" >tan</text>
<text transform="translate(331.3,36.7) scale(1.22,1)" font-size="22.3">β</text>
<text x="344.2" y="36.7" font-size="22.3" text-anchor="start" >=2</text>
<g font-size="16.3"><text x="156.6" y="214">Ωh</text><text x="177.6" y="205.6" font-size="11.5">2</text><text x="185" y="214">&gt;</text><text x="196.4" y="214">0.1</text></g>
<g transform="translate(356.6,72.0) rotate(-18)" font-size="15.5"><text x="0" y="0">p</text><text x="7.9" y="-7.5" font-size="10">2</text><text x="11.5" y="0.9">=</text><text x="22" y="0" font-size="15">0.81</text></g>
<g transform="translate(356.6,109.9) rotate(-18)" font-size="15.5"><text x="0" y="0">p</text><text x="7.9" y="-7.5" font-size="10">2</text><text x="11.5" y="0.9">=</text><text x="22" y="0" font-size="15">0.75</text></g>
<g transform="translate(362.1,216.3) rotate(-18)" font-size="15.5"><text x="0" y="0">p</text><text x="7.9" y="-7.5" font-size="10">2</text><text x="11.5" y="0.9">=</text><text x="22" y="0" font-size="15">0.5</text></g>
<g transform="translate(118.5,18.3) rotate(77)" font-size="17"><text x="0" y="0">e</text><text x="6.6" y="-6.6" font-size="13">+</text><text x="15.6" y="0">e</text><text x="21.4" y="-6.4" font-size="13">−</text><path d="M28.6,-3.3 H49" stroke="#000" stroke-width="0.7" fill="none"/><path d="M50,-3.3 l-4.5,-1.5 l1,1.5 l-1,1.5 z" fill="#000"/><g transform="translate(54.2,-1.1) scale(0.92,1.05)"><path d="M0.2,-5.6 C0.5,-7.6 2.6,-8 3.3,-6 L6.2,2 C6.9,4 8.8,3.6 9,1.8" fill="none" stroke="#000" stroke-width="1.55"/><path d="M8.4,-7.4 L0.9,3.4" fill="none" stroke="#000" stroke-width="0.8"/></g><text x="60.7" y="4.8" font-size="13.5" font-style="italic">i</text><g transform="translate(66.1,-1.0) scale(0.92,1.05)"><path d="M0.2,-5.6 C0.5,-7.6 2.6,-8 3.3,-6 L6.2,2 C6.9,4 8.8,3.6 9,1.8" fill="none" stroke="#000" stroke-width="1.55"/><path d="M8.4,-7.4 L0.9,3.4" fill="none" stroke="#000" stroke-width="0.8"/></g><text x="73.5" y="6" font-size="13.5" font-style="italic">j</text></g>
<g transform="translate(171.2,19.7) rotate(77)" font-size="16"><text x="0" y="0">m</text><g transform="translate(12.3,9.7) scale(0.93,1.0)"><path d="M0.2,-5.6 C0.5,-7.6 2.6,-8 3.3,-6 L6.2,2 C6.9,4 8.8,3.6 9,1.8" fill="none" stroke="#000" stroke-width="1.55"/><path d="M8.4,-7.4 L0.9,3.4" fill="none" stroke="#000" stroke-width="0.8"/></g><text x="22.3" y="1.9" font-size="16">±</text><text x="33.7" y="1.4">=</text><text x="43.5" y="0" font-size="15.6">100.3, 101.5</text></g>
</g>
</svg>
</body></html>
